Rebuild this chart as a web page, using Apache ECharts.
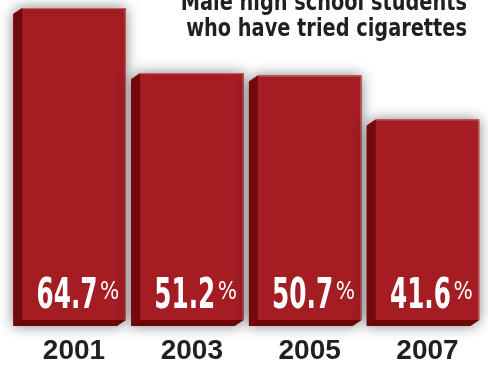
<!DOCTYPE html>
<html>
<head>
<meta charset="utf-8">
<script src="https://cdn.jsdelivr.net/npm/echarts@6/dist/echarts.min.js"></script>
<style>
html,body{margin:0;padding:0;background:#fff;}
#chart{width:488px;height:366px;}
</style>
</head>
<body>
<div id="chart"></div>
<script>
const years = ['2001', '2003', '2005', '2007'];
const values = [64.7, 51.2, 50.7, 41.6];
const titleLines = ['Male high school students', 'who have tried cigarettes'];

const condFont = '"Liberation Sans Narrow", "DejaVu Sans Condensed", sans-serif';

function renderItem(params, api) {
  const i = api.value(0), v = api.value(1);
  const top = api.coord([i, v]);
  const bot = api.coord([i, 0]);
  const band = api.size([1, 0])[0];
  const W = band * 0.878;
  const cx = top[0], L = cx - W / 2, R = cx + W / 2, T = top[1], B = bot[1];
  const dx = -9, dy = 6;
  return {
    type: 'group',
    children: [
      { type: 'polygon', shape: { points: [[L + dx, T + dy], [L, T], [R, T], [R, B], [R + dx, B + dy], [L + dx, B + dy]] },
        style: { fill: '#8a1418', shadowBlur: 14, shadowColor: 'rgba(0,0,0,0.5)' } },
      { type: 'polygon', shape: { points: [[L + dx, T + dy], [L, T], [L, B], [L + dx, B + dy]] },
        style: { fill: '#720a0d' } },
      { type: 'polygon', shape: { points: [[L, B], [R, B], [R + dx, B + dy], [L + dx, B + dy]] },
        style: { fill: '#6c0608' } },
      { type: 'rect', shape: { x: L, y: T, width: W, height: B - T }, style: { fill: '#a31d23' } },
      { type: 'polyline', shape: { points: [[L, T + 0.5], [R - 0.5, T + 0.5], [R - 0.5, B]] },
        style: { stroke: '#c7666b', lineWidth: 1, fill: null } },
      { type: 'text', x: cx + 23.5, y: B - 23.5, scaleX: 0.64,
        style: { text: v.toFixed(1), font: 'bold 43px ' + condFont, fill: '#ffffff', align: 'right', verticalAlign: 'middle' } },
      { type: 'text', x: cx + 26, y: B - 27.5, scaleX: 0.9,
        style: { text: '%', font: '25px ' + condFont, fill: '#ffffff', align: 'left', verticalAlign: 'middle' } }
    ]
  };
}

const chart = echarts.init(document.getElementById('chart'), null, { renderer: 'canvas' });
chart.setOption({
  animation: false,
  backgroundColor: '#ffffff',
  grid: { left: 15.1, right: 1.6, top: 6.6, bottom: 46 },
  xAxis: {
    type: 'category',
    data: years,
    axisLine: { show: false },
    axisTick: { show: false },
    axisLabel: { margin: 17, fontSize: 28, fontWeight: 'bold', fontFamily: 'Liberation Sans', color: '#231f20' },
    splitLine: { show: false }
  },
  yAxis: { type: 'value', min: 0, max: 65, show: false, splitLine: { show: false } },
  graphic: [
    { type: 'text', x: 467, y: 3.3, scaleX: 0.86,
      style: { text: titleLines[0], font: 'bold 25px ' + condFont, fill: '#231f20', align: 'right', verticalAlign: 'middle' } },
    { type: 'text', x: 467, y: 29.3, scaleX: 0.86,
      style: { text: titleLines[1], font: 'bold 25px ' + condFont, fill: '#231f20', align: 'right', verticalAlign: 'middle' } }
  ],
  series: [{
    type: 'custom',
    renderItem: renderItem,
    data: values.map((v, i) => [i, v]),
    encode: { x: 0, y: 1 },
    z: 2
  }]
});
</script>
</body>
</html>
